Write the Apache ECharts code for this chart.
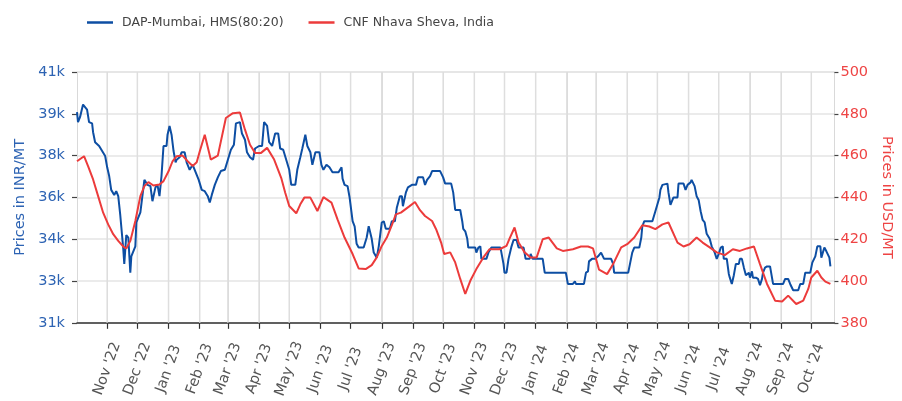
<!DOCTYPE html>
<html>
<head>
<meta charset="utf-8">
<script src="https://cdn.jsdelivr.net/npm/echarts@6/dist/echarts.min.js"></script>
<style>
  html, body { margin: 0; padding: 0; background: #fff; }
  #chart { width: 902px; height: 401px; }
</style>
</head>
<body>
<div id="chart"></div>
<script>
// DAP-Mumbai, HMS(80:20) - INR/MT (左轴)
const dapMumbai = [
  ['2022-10-02', 39400], ['2022-10-03', 39000], ['2022-10-05', 39200], ['2022-10-08', 39700],
  ['2022-10-10', 39600], ['2022-10-12', 39500], ['2022-10-14', 39000], ['2022-10-17', 38950],
  ['2022-10-18', 38600], ['2022-10-20', 38200], ['2022-10-24', 38050], ['2022-10-27', 37850],
  ['2022-10-30', 37650], ['2022-11-01', 37200], ['2022-11-03', 36850], ['2022-11-05', 36300],
  ['2022-11-08', 36100], ['2022-11-10', 36250], ['2022-11-12', 36050], ['2022-11-14', 35300],
  ['2022-11-17', 33950], ['2022-11-18', 33350], ['2022-11-20', 34500], ['2022-11-22', 34400],
  ['2022-11-24', 33000], ['2022-11-25', 33650], ['2022-11-29', 34050], ['2022-11-30', 35000],
  ['2022-12-04', 35400], ['2022-12-08', 36700], ['2022-12-11', 36500], ['2022-12-14', 36450],
  ['2022-12-16', 35850], ['2022-12-19', 36400], ['2022-12-21', 36500], ['2022-12-23', 36050],
  ['2022-12-25', 36850], ['2022-12-27', 38050], ['2022-12-30', 38050], ['2022-12-31', 38500],
  ['2023-01-02', 38850], ['2023-01-04', 38500], ['2023-01-06', 37850], ['2023-01-08', 37400],
  ['2023-01-09', 37500], ['2023-01-12', 37600], ['2023-01-14', 37800], ['2023-01-17', 37800],
  ['2023-01-19', 37400], ['2023-01-22', 37100], ['2023-01-25', 37300], ['2023-01-28', 37000],
  ['2023-01-31', 36700], ['2023-02-03', 36300], ['2023-02-06', 36250], ['2023-02-09', 36050],
  ['2023-02-11', 35800], ['2023-02-13', 36100], ['2023-02-16', 36500], ['2023-02-19', 36800],
  ['2023-02-22', 37050], ['2023-02-26', 37100], ['2023-03-01', 37500], ['2023-03-04', 37900],
  ['2023-03-07', 38100], ['2023-03-09', 38950], ['2023-03-13', 39000], ['2023-03-15', 38550],
  ['2023-03-18', 38300], ['2023-03-20', 37800], ['2023-03-23', 37600], ['2023-03-26', 37500],
  ['2023-03-28', 37950], ['2023-04-01', 38050], ['2023-04-04', 38050], ['2023-04-06', 39000],
  ['2023-04-09', 38850], ['2023-04-11', 38200], ['2023-04-14', 38050], ['2023-04-17', 38550],
  ['2023-04-20', 38550], ['2023-04-22', 37950], ['2023-04-25', 37900], ['2023-04-28', 37500],
  ['2023-05-01', 37100], ['2023-05-03', 36500], ['2023-05-07', 36500], ['2023-05-09', 37100],
  ['2023-05-12', 37600], ['2023-05-14', 37950], ['2023-05-17', 38500], ['2023-05-19', 38050],
  ['2023-05-22', 37800], ['2023-05-24', 37300], ['2023-05-27', 37800], ['2023-05-31', 37800],
  ['2023-06-02', 37300], ['2023-06-04', 37100], ['2023-06-07', 37300], ['2023-06-10', 37200],
  ['2023-06-13', 37000], ['2023-06-19', 37000], ['2023-06-22', 37200], ['2023-06-23', 36750],
  ['2023-06-25', 36500], ['2023-06-28', 36450], ['2023-06-30', 36000], ['2023-07-03', 35050],
  ['2023-07-05', 34850], ['2023-07-07', 34150], ['2023-07-09', 34000], ['2023-07-14', 34000],
  ['2023-07-17', 34400], ['2023-07-19', 34850], ['2023-07-22', 34350], ['2023-07-24', 33800],
  ['2023-07-27', 33600], ['2023-07-29', 34050], ['2023-08-01', 35000], ['2023-08-03', 35050],
  ['2023-08-05', 34750], ['2023-08-09', 34750], ['2023-08-11', 35050], ['2023-08-14', 35050],
  ['2023-08-16', 35600], ['2023-08-19', 36050], ['2023-08-21', 36050], ['2023-08-22', 35650],
  ['2023-08-25', 36200], ['2023-08-27', 36400], ['2023-08-31', 36500], ['2023-09-04', 36500],
  ['2023-09-06', 36800], ['2023-09-11', 36800], ['2023-09-13', 36500], ['2023-09-15', 36700],
  ['2023-09-18', 36850], ['2023-09-20', 37050], ['2023-09-28', 37050], ['2023-10-01', 36800],
  ['2023-10-03', 36550], ['2023-10-09', 36550], ['2023-10-11', 36200], ['2023-10-13', 35500],
  ['2023-10-18', 35500], ['2023-10-20', 35050], ['2023-10-21', 34750], ['2023-10-23', 34650],
  ['2023-10-25', 34350], ['2023-10-26', 34000], ['2023-11-02', 34000], ['2023-11-03', 33800],
  ['2023-11-05', 34000], ['2023-11-07', 34050], ['2023-11-08', 33550], ['2023-11-13', 33550],
  ['2023-11-15', 33800], ['2023-11-18', 34000], ['2023-11-27', 34000], ['2023-11-30', 33350],
  ['2023-12-01', 33000], ['2023-12-03', 33000], ['2023-12-05', 33550], ['2023-12-08', 34050],
  ['2023-12-10', 34300], ['2023-12-13', 34300], ['2023-12-15', 34000], ['2023-12-20', 34000],
  ['2023-12-22', 33550], ['2023-12-26', 33550], ['2023-12-27', 33750], ['2023-12-29', 33550],
  ['2024-01-08', 33550], ['2024-01-10', 33000], ['2024-01-31', 33000], ['2024-02-02', 32550],
  ['2024-02-07', 32550], ['2024-02-09', 32650], ['2024-02-10', 32550], ['2024-02-18', 32550],
  ['2024-02-20', 33000], ['2024-02-22', 33050], ['2024-02-23', 33450], ['2024-02-26', 33550],
  ['2024-02-29', 33550], ['2024-03-03', 33650], ['2024-03-06', 33800], ['2024-03-09', 33550],
  ['2024-03-16', 33550], ['2024-03-18', 33350], ['2024-03-19', 33000], ['2024-04-02', 33000],
  ['2024-04-04', 33400], ['2024-04-06', 33800], ['2024-04-08', 34000], ['2024-04-13', 34000],
  ['2024-04-15', 34400], ['2024-04-16', 34850], ['2024-04-18', 35050], ['2024-04-26', 35050],
  ['2024-04-29', 35450], ['2024-04-30', 35500], ['2024-05-03', 36000], ['2024-05-04', 36300],
  ['2024-05-06', 36500], ['2024-05-11', 36550], ['2024-05-12', 36200], ['2024-05-14', 35700],
  ['2024-05-17', 36000], ['2024-05-21', 36000], ['2024-05-22', 36550], ['2024-05-27', 36550],
  ['2024-05-29', 36300], ['2024-05-31', 36500], ['2024-06-03', 36600], ['2024-06-04', 36700],
  ['2024-06-07', 36450], ['2024-06-09', 36050], ['2024-06-11', 35900], ['2024-06-13', 35450],
  ['2024-06-15', 35100], ['2024-06-17', 35000], ['2024-06-19', 34550], ['2024-06-22', 34350],
  ['2024-06-24', 34050], ['2024-06-27', 33800], ['2024-06-29', 33550], ['2024-07-01', 33750],
  ['2024-07-03', 34000], ['2024-07-05', 34050], ['2024-07-06', 33550], ['2024-07-09', 33550],
  ['2024-07-11', 32950], ['2024-07-12', 32800], ['2024-07-14', 32550], ['2024-07-16', 32900],
  ['2024-07-18', 33350], ['2024-07-21', 33350], ['2024-07-22', 33550], ['2024-07-24', 33550],
  ['2024-07-26', 33200], ['2024-07-28', 32900], ['2024-07-31', 33000], ['2024-08-01', 32800],
  ['2024-08-03', 33050], ['2024-08-04', 32800], ['2024-08-07', 32800], ['2024-08-09', 32750],
  ['2024-08-11', 32500], ['2024-08-13', 32750], ['2024-08-14', 33000], ['2024-08-16', 33200],
  ['2024-08-18', 33250], ['2024-08-21', 33250], ['2024-08-24', 32550], ['2024-09-03', 32550],
  ['2024-09-05', 32750], ['2024-09-08', 32750], ['2024-09-10', 32550], ['2024-09-13', 32300],
  ['2024-09-18', 32300], ['2024-09-20', 32550], ['2024-09-23', 32550], ['2024-09-25', 33000],
  ['2024-09-30', 33000], ['2024-10-02', 33400], ['2024-10-05', 33650], ['2024-10-07', 34050],
  ['2024-10-10', 34050], ['2024-10-11', 33600], ['2024-10-14', 34000], ['2024-10-16', 33850],
  ['2024-10-19', 33600], ['2024-10-20', 33250]
];

// CNF Nhava Sheva, India - USD/MT (右轴)
const cnfNhavaSheva = [
  ['2022-10-02', 457.3], ['2022-10-09', 459.7], ['2022-10-13', 455], ['2022-10-18', 448.6],
  ['2022-10-23', 440.6], ['2022-10-28', 432.7], ['2022-11-02', 427.1], ['2022-11-07', 422.4],
  ['2022-11-12', 419.2], ['2022-11-17', 416.5], ['2022-11-20', 415.6], ['2022-11-24', 419.2],
  ['2022-11-29', 428.7], ['2022-12-04', 440.6], ['2022-12-08', 445.4], ['2022-12-12', 447.3],
  ['2022-12-17', 445.7], ['2022-12-23', 446.2], ['2022-12-27', 447.8], ['2023-01-01', 452.5],
  ['2023-01-05', 457.3], ['2023-01-09', 459.7], ['2023-01-15', 460], ['2023-01-20', 457.3],
  ['2023-01-25', 455], ['2023-01-29', 456.8], ['2023-02-01', 462], ['2023-02-06', 470],
  ['2023-02-12', 458.1], ['2023-02-19', 460], ['2023-02-27', 478], ['2023-03-06', 480.3],
  ['2023-03-13', 480.6], ['2023-03-18', 472.4], ['2023-03-23', 465.2], ['2023-03-28', 461.3],
  ['2023-04-03', 461.3], ['2023-04-09', 463.7], ['2023-04-16', 458.1], ['2023-04-23', 449.4],
  ['2023-04-27', 442.2], ['2023-05-01', 435.9], ['2023-05-08', 432.4], ['2023-05-12', 436.7],
  ['2023-05-16', 439.9], ['2023-05-22', 439.9], ['2023-05-29', 433.5], ['2023-06-04', 440.1],
  ['2023-06-12', 437.5], ['2023-06-18', 429.5], ['2023-06-25', 420.8], ['2023-07-03', 412.9],
  ['2023-07-09', 406], ['2023-07-16', 405.7], ['2023-07-22', 407.6], ['2023-07-27', 411.3],
  ['2023-08-01', 416.8], ['2023-08-06', 420.8], ['2023-08-11', 426.7], ['2023-08-15', 431.9],
  ['2023-08-20', 432.7], ['2023-08-28', 435.6], ['2023-09-03', 437.8], ['2023-09-08', 433.9],
  ['2023-09-13', 431.1], ['2023-09-20', 428.7], ['2023-09-24', 424.8], ['2023-09-29', 418.4],
  ['2023-10-02', 412.9], ['2023-10-08', 413.7], ['2023-10-13', 408.9], ['2023-10-18', 401],
  ['2023-10-23', 393.8], ['2023-10-28', 400.1], ['2023-11-03', 405.7], ['2023-11-10', 411.3],
  ['2023-11-16', 415.2], ['2023-11-26', 415.2], ['2023-12-03', 416.8], ['2023-12-06', 420.3],
  ['2023-12-11', 425.6], ['2023-12-15', 418.4], ['2023-12-21', 413.7], ['2023-12-27', 411.3],
  ['2024-01-02', 411.3], ['2024-01-08', 420], ['2024-01-14', 420.8], ['2024-01-22', 415.6],
  ['2024-01-28', 414.4], ['2024-02-07', 415.2], ['2024-02-15', 416.5], ['2024-02-22', 416.5],
  ['2024-02-27', 415.6], ['2024-03-01', 410.5], ['2024-03-04', 405.4], ['2024-03-12', 403.3],
  ['2024-03-18', 408.1], ['2024-03-26', 416.1], ['2024-04-01', 417.6], ['2024-04-08', 420.8],
  ['2024-04-16', 426.7], ['2024-04-23', 426.1], ['2024-04-29', 424.8], ['2024-05-06', 427.1],
  ['2024-05-12', 428], ['2024-05-21', 418.4], ['2024-05-27', 416.5], ['2024-06-02', 417.6],
  ['2024-06-09', 420.8], ['2024-06-15', 418.4], ['2024-06-22', 416.1], ['2024-06-29', 413.7],
  ['2024-07-07', 412.4], ['2024-07-15', 415.2], ['2024-07-22', 414.4], ['2024-07-29', 415.6],
  ['2024-08-05', 416.5], ['2024-08-11', 408.1], ['2024-08-18', 398.6], ['2024-08-26', 390.6],
  ['2024-09-02', 390.2], ['2024-09-08', 393], ['2024-09-16', 389], ['2024-09-23', 390.6],
  ['2024-09-28', 396.2], ['2024-10-01', 401.7], ['2024-10-07', 404.9], ['2024-10-11', 401.7],
  ['2024-10-15', 399.7], ['2024-10-20', 398.6]
];

// 月份刻度（竖向网格线）
const monthTicks = [
  '2022-11-01', '2022-12-01', '2023-01-01', '2023-02-01', '2023-03-01', '2023-04-01',
  '2023-05-01', '2023-06-01', '2023-07-01', '2023-08-01', '2023-09-01', '2023-10-01',
  '2023-11-01', '2023-12-01', '2024-01-01', '2024-02-01', '2024-03-01', '2024-04-01',
  '2024-05-01', '2024-06-01', '2024-07-01', '2024-08-01', '2024-09-01', '2024-10-01'
];

const monthNames = ['Jan', 'Feb', 'Mar', 'Apr', 'May', 'Jun', 'Jul', 'Aug', 'Sep', 'Oct', 'Nov', 'Dec'];
const DAY = 86400000;
const INR_MIN = 31000, INR_MAX = 41000;

const chart = echarts.init(document.getElementById('chart'));
const font = 'DejaVu Sans';

chart.setOption({
  animation: false,
  textStyle: { fontFamily: font },
  legend: {
    left: 82,
    top: 11,
    icon: 'rect',
    itemWidth: 26,
    itemHeight: 2.5,
    itemGap: 25,
    textStyle: { fontFamily: font, fontSize: 12.5, color: '#444', padding: [0, 0, 0, 4] },
    data: ['DAP-Mumbai, HMS(80:20)', 'CNF Nhava Sheva, India']
  },
  grid: { left: 77, right: 63, top: 72, bottom: 77 },
  xAxis: {
    type: 'time',
    min: '2022-10-02',
    max: '2024-10-24',
    splitNumber: 25,
    minInterval: 28 * DAY,
    maxInterval: 31 * DAY,
    axisLine: { lineStyle: { color: '#333', width: 1.5 } },
    axisTick: { show: true, length: 6, lineStyle: { color: '#333', width: 1.2 } },
    splitLine: { show: true, lineStyle: { color: '#d9d9d9', width: 1 } },
    axisLabel: {
      interval: 0,
      rotate: 70,
      align: 'center',
      verticalAlign: 'middle',
      fontSize: 14.5,
      color: '#555',
      margin: 46,
      showMinLabel: false,
      showMaxLabel: false,
      formatter: function (value) {
        const d = new Date(value);
        return monthNames[d.getMonth()] + " '" + String(d.getFullYear()).slice(2);
      }
    }
  },
  yAxis: [
    {
      type: 'value',
      min: INR_MIN,
      max: INR_MAX,
      interval: 10000 / 6,
      name: 'Prices in INR/MT',
      nameLocation: 'middle',
      nameGap: 47,
      nameTextStyle: { color: '#2d63b3', fontSize: 14.5 },
      axisLine: { show: false },
      axisTick: { show: true, length: 5, lineStyle: { color: '#444', width: 1.2 } },
      axisLabel: {
        color: '#2d63b3',
        fontSize: 14.5,
        margin: 12,
        formatter: function (v) { return Math.round(v / 1000) + 'k'; }
      },
      splitLine: { show: true, lineStyle: { color: '#e4e4e4', width: 1.5 } }
    },
    {
      type: 'value',
      min: 380,
      max: 500,
      interval: 20,
      name: 'Prices in USD/MT',
      nameLocation: 'middle',
      nameGap: 41,
      nameRotate: -90,
      nameTextStyle: { color: '#ee4444', fontSize: 14.5 },
      axisLine: { show: false },
      axisTick: { show: true, length: 4, lineStyle: { color: '#444', width: 1.2 } },
      axisLabel: { color: '#ee4444', fontSize: 14.5, margin: 6 },
      splitLine: { show: false }
    }
  ],
  series: [
    {
      // 竖向网格线：每月一条，用 custom series 画
      type: 'custom',
      silent: true,
      z: 1,
      yAxisIndex: 0,
      dimensions: [{ name: 'date', type: 'time' }, { name: 'v', type: 'number' }],
      data: monthTicks.map(function (d) { return [d, INR_MIN]; }),
      encode: { x: 0, y: 1 },
      renderItem: function (params, api) {
        const cs = params.coordSys;
        const px = api.coord([api.value(0), INR_MIN])[0];
        return {
          type: 'line',
          shape: { x1: px, y1: cs.y, x2: px, y2: cs.y + cs.height },
          style: { stroke: '#dedede', lineWidth: 1.5 }
        };
      }
    },
    {
      name: 'DAP-Mumbai, HMS(80:20)',
      type: 'line',
      yAxisIndex: 0,
      data: dapMumbai,
      showSymbol: false,
      symbol: 'none',
      color: '#0d4ea3',
      lineStyle: { width: 2, color: '#0d4ea3' },
      z: 3
    },
    {
      name: 'CNF Nhava Sheva, India',
      type: 'line',
      yAxisIndex: 1,
      data: cnfNhavaSheva,
      showSymbol: false,
      symbol: 'none',
      color: '#ec3b3b',
      lineStyle: { width: 2, color: '#ec3b3b' },
      z: 4
    }
  ]
});
</script>
</body>
</html>
